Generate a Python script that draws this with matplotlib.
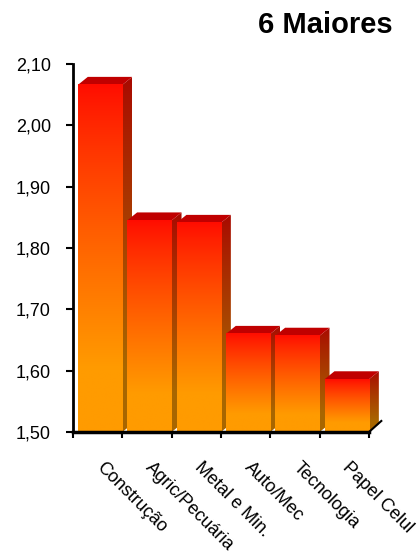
import numpy as np
import matplotlib
matplotlib.use('Agg')
import matplotlib.pyplot as plt
from matplotlib.patches import Polygon
from matplotlib.transforms import offset_copy

# Dados do grafico
setores = ['Construção', 'Agric/Pecuária', 'Metal e Min.', 'Auto/Mec', 'Tecnologia', 'Papel Celul']
valores = [2.066, 1.845, 1.841, 1.660, 1.657, 1.586]
y_ticks = [1.50, 1.60, 1.70, 1.80, 1.90, 2.00, 2.10]
titulo = '6 Maiores'

plt.rcParams['font.family'] = ['Liberation Sans', 'DejaVu Sans']

BASE = 1.50
DX, DY = 0.2, 0.013  # profundidade da barra (pseudo 3D)
RED = np.array([255, 12, 0]) / 255
ORANGE = np.array([255, 155, 0]) / 255


def gradiente(n=200, fator=1.0):
    t = np.linspace(0, 1, n)
    s = (np.clip(t / 0.82, 0, 1) ** 0.85)[:, None]
    cores = (RED * (1 - s) + ORANGE * s) * fator
    return cores[:, None, :]


fig = plt.figure(figsize=(4.17, 5.54), dpi=100)
ax = fig.add_axes([73 / 417, 122 / 554, 6.3 * 49.33 / 417, 368 / 554])

for i, v in enumerate(valores):
    z = 2 + i * 0.1
    x0, x1 = i + 0.1, i + 1.0
    # face frontal
    ax.imshow(gradiente(), extent=(x0, x1, BASE, v), aspect='auto', origin='upper',
              zorder=z + 0.03, interpolation='bilinear')
    # lateral
    lado = Polygon([(x1, BASE), (x1 + DX, BASE + DY), (x1 + DX, v + DY), (x1, v)],
                   closed=True, facecolor='none', edgecolor='none', zorder=z)
    ax.add_patch(lado)
    im = ax.imshow(gradiente(fator=0.66), extent=(x1, x1 + DX, BASE, v + DY), aspect='auto',
                   origin='upper', zorder=z + 0.01, interpolation='bilinear')
    im.set_clip_path(lado)
    # topo
    ax.add_patch(Polygon([(x0, v), (x0 + DX, v + DY), (x1 + DX, v + DY), (x1, v)],
                         closed=True, facecolor='#C00000', edgecolor='none', zorder=z + 0.02))

ax.set_xlim(0, 6.3)
ax.set_ylim(BASE, 2.10)

for s in ['top', 'right']:
    ax.spines[s].set_visible(False)
ax.spines['left'].set_linewidth(2)
ax.spines['bottom'].set_linewidth(2.5)
ax.spines['bottom'].set_bounds(0, 6)
ax.spines['left'].set_zorder(5)
ax.spines['bottom'].set_zorder(5)

ax.set_yticks(y_ticks)
ax.set_yticklabels(['{:.2f}'.format(t).replace('.', ',') for t in y_ticks], fontsize=13)
ax.tick_params(axis='y', length=5, width=1.5, pad=11)
ax.set_xticks(range(7))
ax.set_xticklabels([])
ax.tick_params(axis='x', length=4, width=1.5)

# linha do piso (profundidade)
ax.plot([6, 6.25], [BASE, BASE + 0.018], color='black', lw=1.5, clip_on=False, zorder=5)

tr = offset_copy(ax.transData, fig=fig, x=1, y=-33, units='dots')
for i, nome in enumerate(setores):
    ax.text(i + 0.5, BASE, nome, transform=tr, rotation=-45, rotation_mode='anchor',
            ha='left', va='center', fontsize=13)

fig.text(325 / 417, 1 - 25 / 554, titulo, fontsize=21, fontweight='bold',
         ha='center', va='center')

fig.savefig('out.png', dpi=100)
